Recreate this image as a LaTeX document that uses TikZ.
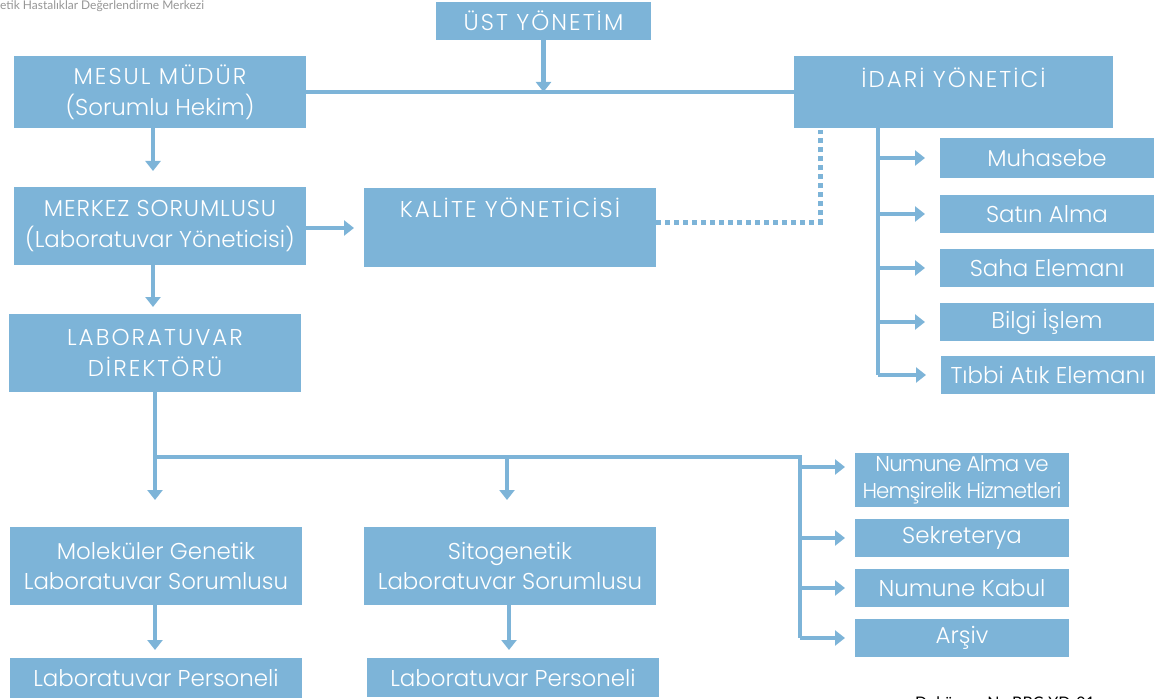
\documentclass[tikz,border=0pt]{standalone}
\usepackage{fontspec}
\setmainfont{Poppins}[UprightFont={* Light}]
\newfontfamily\hdrfont{Lato}
\usetikzlibrary{arrows.meta}
\definecolor{bx}{RGB}{125,180,216}
\definecolor{hdr}{RGB}{150,150,150}
\begin{document}
\begin{tikzpicture}[x=1bp,y=-1bp,
  box/.style={fill=bx, draw=none, text=white, align=center, inner sep=0pt, outer sep=0pt,
    font=\fontsize{23}{31}\selectfont},
  caps/.style={font=\fontsize{23}{31}\selectfont\addfontfeature{LetterSpace=9}},
  sbox/.style={box, minimum width=214bp, minimum height=38bp},
  bbox/.style={box, minimum width=292bp, minimum height=78bp},
  trunk/.style={draw=bx, line width=4.5bp},
  conn/.style={draw=bx, line width=4.5bp, -{Triangle[width=15bp,length=10bp]}},
  dotline/.style={draw=bx, line width=5bp, dash pattern=on 5bp off 4bp}]
\useasboundingbox (0,0) rectangle (1160,699);
\begin{scope}
\clip (0,0) rectangle (1160,699);
\node[anchor=base west, text=hdr, font=\hdrfont\fontsize{12}{14}\selectfont, inner sep=0pt] (hd) at (0,10) {etik Hastalıklar Değerlendirme Merkezi};
\node[anchor=base west, text=black, font=\hdrfont\fontsize{16}{18}\selectfont, inner sep=0pt] (dok) at (915,708) {Doküman No:BBC-YD-01};

\node[box, caps, minimum width=215bp, minimum height=38bp] (ust) at (543.5,21) {ÜST YÖNETİM};
\node[box, minimum width=292bp, minimum height=72bp] (mesul) at (160,92) {{\addfontfeature{LetterSpace=9}MESUL MÜDÜR}\\(Sorumlu Hekim)};
\node[box, caps, minimum width=319bp, minimum height=72bp, text depth=0pt] (idari) at (953.5,92) {\raisebox{-2bp}{İDARİ YÖNETİCİ}\\\strut};
\node[bbox] (merkez) at (160,226) {{\addfontfeature{LetterSpace=4}MERKEZ SORUMLUSU}\\(Laboratuvar Yöneticisi)};
\node[bbox, caps, minimum height=79bp] (kalite) at (510,227.5) {KALİTE YÖNETİCİSİ\\\strut};
\node[bbox, caps] (labdir) at (155,353) {LABORATUVAR\\DİREKTÖRÜ};

\node[sbox, minimum height=40bp] (muh) at (1047,158) {Muhasebe};
\node[sbox] (satin) at (1047,214) {Satın Alma};
\node[sbox] (saha) at (1047,268) {Saha Elemanı};
\node[sbox] (bilgi) at (1047,322) {Bilgi İşlem};
\node[sbox] (tibbi) at (1048,375) {Tıbbi Atık Elemanı};

\node[sbox, minimum height=54bp, font=\fontsize{21.5}{27}\selectfont\addfontfeature{LetterSpace=-4}] (nalma) at (962,480) {Numune Alma ve\\Hemşirelik Hizmetleri};
\node[sbox] (sekr) at (962,538) {Sekreterya};
\node[sbox] (kabul) at (962,588) {Numune Kabul};
\node[sbox] (arsiv) at (962,638) {Arşiv};

\node[bbox] (molek) at (156,566) {Moleküler Genetik\\Laboratuvar Sorumlusu};
\node[bbox] (sito) at (510,566) {Sitogenetik\\Laboratuvar Sorumlusu};
\node[box, minimum width=292bp, minimum height=40bp] (pers1) at (156,678) {Laboratuvar Personeli};
\node[box, minimum width=292bp, minimum height=39bp] (pers2) at (513,677.5) {Laboratuvar Personeli};

% top connectors
\draw[conn] (ust.south) -- (ust.south |- mesul.east);
\draw[trunk] (mesul.east) -- (mesul.east -| idari.west);
\draw[conn, shorten >=16bp] ([xshift=-7bp]mesul.south) -- ([xshift=-7bp]mesul.south |- merkez.north);
\draw[conn, shorten >=10bp] ([yshift=-2bp]merkez.east) -- ([yshift=-2bp]merkez.east -| kalite.west);
\draw[conn, shorten >=7bp] ([xshift=-7bp]merkez.south) -- ([xshift=-7bp]merkez.south |- labdir.north);

% dotted
\coordinate (dk) at (820,130);
\draw[dotline] ([yshift=5bp]kalite.east) -| (dk);

% idari trunk
\coordinate (it) at (878,128);
\draw[trunk] (it) -- (it |- tibbi.west);
\foreach \b in {muh,satin,saha,bilgi,tibbi}
  \draw[conn, shorten >=15bp] (it |- \b.west) -- (\b.west);

% lab director trunk
\coordinate (lb) at (155,457);
\coordinate (rb) at (800,457);
\draw[trunk] (labdir.south) -- (lb) -- (rb) -- (rb |- arsiv.west);
\draw[conn, shorten >=27bp] (lb) -- (lb |- molek.north);
\draw[conn, shorten >=27bp] ([xshift=-3bp]sito.north |- lb) -- ([xshift=-3bp]sito.north);
\draw[conn, shorten >=10bp] ([yshift=13bp]rb |- nalma.west) -- ([yshift=13bp]nalma.west);
\foreach \b in {sekr,kabul,arsiv}
  \draw[conn, shorten >=10bp] (rb |- \b.west) -- (\b.west);

% bottom
\draw[conn, shorten >=8bp] ([xshift=-1bp]molek.south) -- ([xshift=-1bp]molek.south |- pers1.north);
\draw[conn, shorten >=8bp] ([xshift=-1bp]sito.south) -- ([xshift=-1bp]sito.south |- pers2.north);
\end{scope}
\end{tikzpicture}
\end{document}
